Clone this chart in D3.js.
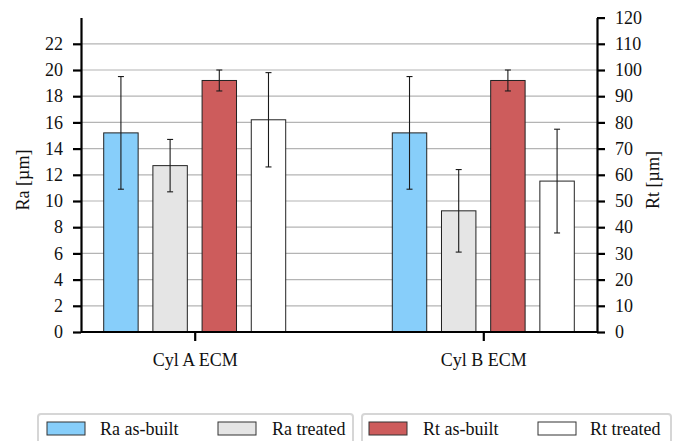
<!DOCTYPE html>
<html>
<head>
<meta charset="utf-8">
<script src="https://cdn.jsdelivr.net/npm/d3@7"></script>
</head>
<body style="margin:0;background:#fff">
<svg id="chart" width="681" height="441"></svg>
<script>
// Surface roughness of the two cylinders, before and after treatment
const categories = ["Cyl A ECM", "Cyl B ECM"];

const raAsBuilt    = [15.2, 15.2];
const raAsBuiltErr = [4.3, 4.3];
const raTreated    = [12.7, 9.25];
const raTreatedErr = [2.0, 3.15];
const rtAsBuilt    = [96, 96];
const rtAsBuiltErr = [4, 4];
const rtTreated    = [81, 57.6];
const rtTreatedErr = [18, 19.8];

const raTicks = [0, 2, 4, 6, 8, 10, 12, 14, 16, 18, 20, 22];
const rtTicks = [0, 10, 20, 30, 40, 50, 60, 70, 80, 90, 100, 110, 120];

const seriesNames = ["Ra as-built", "Ra treated", "Rt as-built", "Rt treated"];
const seriesColors = ["#87CEFA", "#E5E5E5", "#CD5C5C", "#FFFFFF"];

const series = [
  { name: seriesNames[0], axis: "ra", values: raAsBuilt, errors: raAsBuiltErr, color: seriesColors[0] },
  { name: seriesNames[1], axis: "ra", values: raTreated, errors: raTreatedErr, color: seriesColors[1] },
  { name: seriesNames[2], axis: "rt", values: rtAsBuilt, errors: rtAsBuiltErr, color: seriesColors[2] },
  { name: seriesNames[3], axis: "rt", values: rtTreated, errors: rtTreatedErr, color: seriesColors[3] }
];

const FONT = '"Liberation Serif", "Times New Roman", serif';
const svg = d3.select("#chart").style("font-family", FONT);
const plotLeft = 81, plotRight = 597, plotBottom = 332, plotTop = 17.6;

const yRa = d3.scaleLinear().domain([0, 24]).range([plotBottom, plotTop]);
const yRt = d3.scaleLinear().domain([0, 120]).range([plotBottom, plotTop]);
const x0 = d3.scalePoint().domain(categories).range([plotLeft, plotRight]).padding(0.394);
const x1 = d3.scaleBand().domain(seriesNames).range([-91, 91]).paddingInner(0.3);

// horizontal grid
svg.append("g")
  .selectAll("line")
  .data(raTicks.filter(t => t > 0))
  .join("line")
  .attr("x1", plotLeft).attr("x2", plotRight)
  .attr("y1", d => yRa(d)).attr("y2", d => yRa(d))
  .attr("stroke", "#b4b4b4").attr("stroke-width", 1.2);

// bars
const groups = svg.append("g")
  .selectAll("g")
  .data(series)
  .join("g");

groups.selectAll("rect")
  .data(s => s.values.map((v, i) => ({ s, v, i })))
  .join("rect")
  .attr("x", d => x0(categories[d.i]) + x1(d.s.name))
  .attr("width", x1.bandwidth())
  .attr("y", d => (d.s.axis === "ra" ? yRa : yRt)(d.v))
  .attr("height", d => plotBottom - (d.s.axis === "ra" ? yRa : yRt)(d.v))
  .attr("fill", d => d.s.color)
  .attr("stroke", "#222").attr("stroke-width", 1);

// error bars
const errs = svg.append("g")
  .selectAll("g")
  .data(series.flatMap(s => s.values.map((v, i) => ({ s, v, e: s.errors[i], i }))))
  .join("g")
  .attr("stroke", "#1a1a1a").attr("stroke-width", 1.1);

errs.each(function (d) {
  const g = d3.select(this);
  const y = d.s.axis === "ra" ? yRa : yRt;
  const cx = x0(categories[d.i]) + x1(d.s.name) + x1.bandwidth() / 2;
  const y1 = y(d.v + d.e), y2 = y(d.v - d.e);
  g.append("line").attr("x1", cx).attr("x2", cx).attr("y1", y1).attr("y2", y2);
  g.append("line").attr("x1", cx - 3).attr("x2", cx + 3).attr("y1", y1).attr("y2", y1);
  g.append("line").attr("x1", cx - 3).attr("x2", cx + 3).attr("y1", y2).attr("y2", y2);
});

// axes
const leftAxis = svg.append("g")
  .attr("transform", `translate(${plotLeft},0)`)
  .call(d3.axisLeft(yRa).tickValues(raTicks).tickSize(8).tickPadding(10).tickSizeOuter(0));
const rightAxis = svg.append("g")
  .attr("transform", `translate(${plotRight},0)`)
  .call(d3.axisRight(yRt).tickValues(rtTicks).tickSize(8).tickPadding(10).tickSizeOuter(0));
const bottomAxis = svg.append("g")
  .attr("transform", `translate(0,${plotBottom})`)
  .call(d3.axisBottom(x0).tickSize(9).tickPadding(12).tickSizeOuter(0));
bottomAxis.select(".domain").attr("d", `M${plotLeft},0H${plotRight}`);

[leftAxis, rightAxis, bottomAxis].forEach(a => {
  a.attr("font-family", null);
  a.select(".domain").attr("stroke", "#000").attr("stroke-width", 2.2);
  a.selectAll(".tick line").attr("stroke", "#000").attr("stroke-width", 2.2);
  a.selectAll(".tick text").attr("fill", "#111").style("font-size", "18px");
});

// axis titles
svg.append("text")
  .attr("transform", "translate(29,180) rotate(-90)")
  .attr("text-anchor", "middle")
  .style("font-size", "18px").attr("fill", "#111")
  .text("Ra [µm]");
svg.append("text")
  .attr("transform", "translate(659,180) rotate(-90)")
  .attr("text-anchor", "middle")
  .style("font-size", "18px").attr("fill", "#111")
  .text("Rt [µm]");

// legend: two framed boxes, one per measure
const legendBoxes = [
  { x: 38, w: 315, items: [0, 1], swatchX: [47, 218], textX: [100, 272] },
  { x: 362, w: 309, items: [2, 3], swatchX: [369, 538], textX: [423, 590] }
];
const legend = svg.append("g");
legendBoxes.forEach(b => {
  legend.append("rect")
    .attr("x", b.x).attr("y", 414).attr("width", b.w).attr("height", 40)
    .attr("rx", 3).attr("fill", "none")
    .attr("stroke", "#d6d6d6").attr("stroke-width", 2);
  b.items.forEach((k, j) => {
    legend.append("rect")
      .attr("x", b.swatchX[j]).attr("y", 422).attr("width", 38).attr("height", 13)
      .attr("fill", seriesColors[k]).attr("stroke", "#333").attr("stroke-width", 1);
    legend.append("text")
      .attr("x", b.textX[j]).attr("y", 435)
      .style("font-size", "18px").attr("fill", "#111")
      .text(seriesNames[k]);
  });
});

// one serif face for every label
svg.selectAll("text").style("font-family", FONT);
</script>
</body>
</html>
